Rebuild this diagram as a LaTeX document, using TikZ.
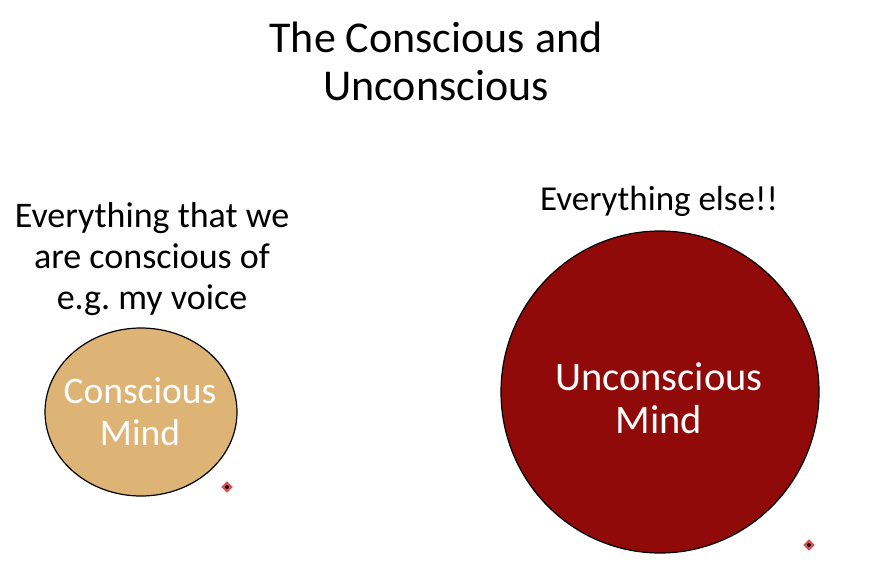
\documentclass[tikz,border=0pt]{standalone}
\usepackage{fontspec}
\setmainfont{Carlito}
\usetikzlibrary{shapes.geometric}
\definecolor{tan}{RGB}{222,180,118}
\definecolor{darkred}{RGB}{145,10,10}
\definecolor{markred}{RGB}{228,80,80}

\begin{document}
\begin{tikzpicture}[x=1pt,y=-1pt]
\useasboundingbox[fill=white] (0,0) rectangle (885,578);
\draw[line width=1.2pt,fill=tan] (141,412) ellipse [x radius=96,y radius=84];
\draw[line width=1.2pt,fill=darkred] (660,392) ellipse [x radius=159,y radius=161];
\node[fill=markred,draw=markred!85!black,line width=0.3pt,diamond,minimum size=11pt,inner sep=0pt] (m1) at (227,487) {};
\fill[black] (m1) circle (2);
\node[fill=markred,draw=markred!85!black,line width=0.3pt,diamond,minimum size=11pt,inner sep=0pt] (m2) at (809,545) {};
\fill[black] (m2) circle (2);
\node[align=center,font=\fontsize{44}{48}\selectfont] (title) at (436,61) {The Conscious and\\Unconscious};
\node[align=center,font=\fontsize{36}{41}\selectfont] (ctext) at (152,259) {Everything that we\\are conscious of\\e.g.\ my voice};
\node[font=\fontsize{35}{41}\selectfont] (utext) at (659,201) {Everything else!!};
\node[align=center,text=white,font=\fontsize{37.5}{42}\selectfont] (cmind) at (140,412) {Conscious\\Mind};
\node[align=center,text=white,font=\fontsize{40.5}{43}\selectfont] (umind) at (659,398) {Unconscious\\Mind};
\end{tikzpicture}
\end{document}
